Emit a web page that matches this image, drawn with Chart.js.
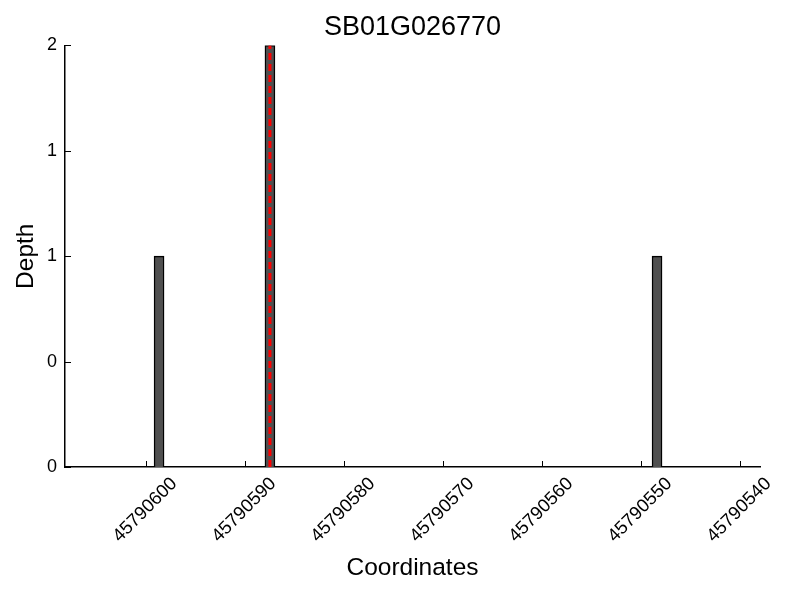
<!DOCTYPE html>
<html>
<head>
<meta charset="utf-8">
<script src="https://cdn.jsdelivr.net/npm/chart.js@4"></script>
<style>
  html, body { margin: 0; padding: 0; background: #fff; }
  #wrap { width: 800px; height: 600px; }
</style>
</head>
<body>
<div id="wrap"><canvas id="chart" width="800" height="600"></canvas></div>
<script>
'use strict';

// coverage bars
let positions = [45790598.7, 45790587.5, 45790548.4];
let depths = [1, 2, 1];

// red dashed marker
let markerPos = 45790587.5;

let xTicks = [45790600, 45790590, 45790580, 45790570, 45790560, 45790550, 45790540];
let yTicks = [0, 0.5, 1, 1.5, 2];
let yTickLabels = ['0', '0', '1', '1', '2'];

let canvasElem = document.getElementById('chart');
let font = 'Liberation Sans, Arial, sans-serif';

// inward tick marks + centred rotated x labels, like the original
let axisDeco = {
  id: 'axisDeco',
  afterDraw(chart) {
    let ctx = chart.ctx;
    let area = chart.chartArea;
    let x = chart.scales.x, y = chart.scales.y;
    ctx.save();
    ctx.strokeStyle = '#000';
    ctx.lineWidth = 1;
    ctx.beginPath();
    x.ticks.forEach(t => {
      let px = Math.round(x.getPixelForValue(t.value)) + 0.5;
      ctx.moveTo(px, area.bottom);
      ctx.lineTo(px, area.bottom - 6);
    });
    y.ticks.forEach(t => {
      let py = Math.round(y.getPixelForValue(t.value)) + 0.5;
      ctx.moveTo(area.left, py);
      ctx.lineTo(area.left + 6, py);
    });
    ctx.stroke();

    ctx.fillStyle = '#000';
    ctx.font = '18.5px ' + font;
    ctx.textAlign = 'center';
    ctx.textBaseline = 'middle';
    x.ticks.forEach(t => {
      let px = x.getPixelForValue(t.value);
      ctx.save();
      ctx.translate(px - 1, area.bottom + 43);
      ctx.rotate(-Math.PI / 4);
      ctx.fillText(String(t.value), 0, 0);
      ctx.restore();
    });
    ctx.restore();
  }
};

new Chart(canvasElem, {
  data: {
    datasets: [{
      type: 'bar',
      data: positions.map((p, i) => ({x: p, y: depths[i]})),
      backgroundColor: '#505050',
      borderColor: '#000',
      borderWidth: 1.5,
      barThickness: 10,
      order: 2
    }, {
      type: 'line',
      data: [{x: markerPos, y: 0}, {x: markerPos, y: 2}],
      borderColor: '#ff0000',
      borderWidth: 3,
      borderDash: [7, 4],
      pointRadius: 0,
      order: 1
    }]
  },
  options: {
    responsive: false,
    animation: false,
    layout: { padding: { top: 0, right: 40, bottom: 0, left: 0 } },
    plugins: {
      legend: { display: false },
      tooltip: { enabled: false },
      title: {
        display: true,
        fullSize: false,
        text: 'SB01G026770',
        color: '#000',
        font: { family: font, size: 27, weight: 'normal' },
        padding: { top: 11, bottom: 2 }
      }
    },
    scales: {
      x: {
        type: 'linear',
        reverse: true,
        offset: false,
        min: 45790538,
        max: 45790608.2,
        afterBuildTicks(scale) {
          scale.ticks = xTicks.map(v => ({value: v}));
        },
        afterFit(scale) { scale.height = 133; },
        grid: { display: false, drawTicks: false },
        border: { display: true, color: '#000', width: 1.5 },
        ticks: { display: false },
        title: {
          display: true,
          text: 'Coordinates',
          color: '#000',
          font: { family: font, size: 24.5 },
          padding: { top: 0, bottom: 17 }
        }
      },
      y: {
        min: 0,
        max: 2,
        afterBuildTicks(scale) {
          scale.ticks = yTicks.map(v => ({value: v}));
        },
        afterFit(scale) { scale.width = 65; },
        grid: { display: false, drawTicks: false },
        border: { display: true, color: '#000', width: 1.5 },
        ticks: {
          color: '#000',
          font: { family: font, size: 18 },
          padding: 8,
          callback: (v, i) => yTickLabels[i]
        },
        title: {
          display: true,
          text: 'Depth',
          color: '#000',
          font: { family: font, size: 24.5 },
          padding: { top: 12, bottom: 0 }
        }
      }
    }
  },
  plugins: [axisDeco]
});
</script>
</body>
</html>
